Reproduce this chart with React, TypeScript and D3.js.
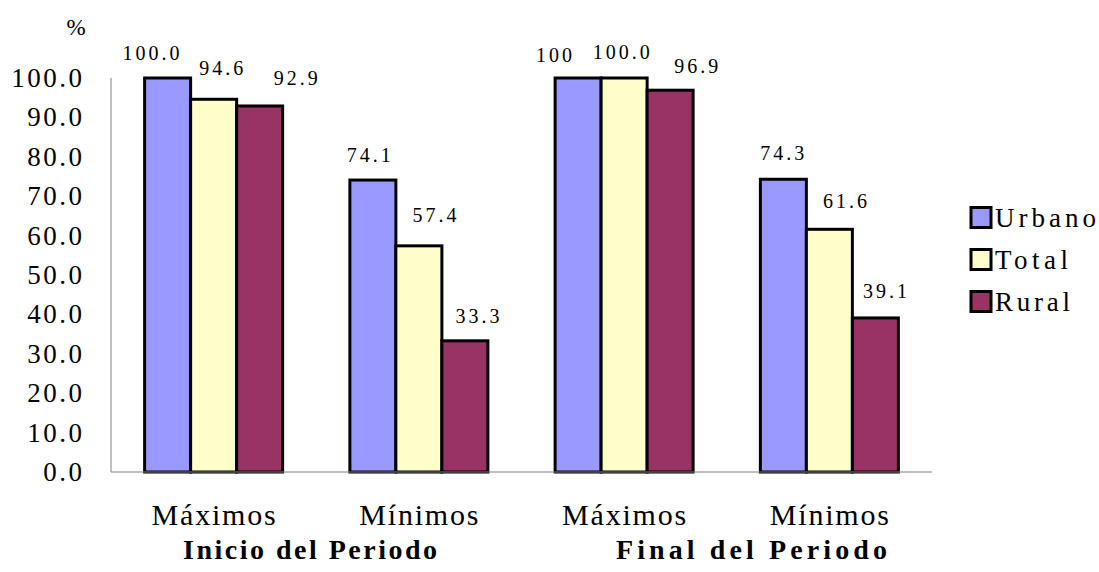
import React from "react";
import * as d3 from "d3";

// Categories along the x axis (two per period)
const categories = ["Máximos", "Mínimos", "Máximos", "Mínimos"];
const periods = ["Inicio del Periodo", "Final del Periodo"];
const seriesNames = ["Urbano", "Total", "Rural"];

// Series values (percent)
const urbano = [100.0, 74.1, 100, 74.3];
const total = [94.6, 57.4, 100.0, 61.6];
const rural = [92.9, 33.3, 96.9, 39.1];

// Value labels as printed above each bar
const urbanoLabels = ["100.0", "74.1", "100", "74.3"];
const totalLabels = ["94.6", "57.4", "100.0", "61.6"];
const ruralLabels = ["92.9", "33.3", "96.9", "39.1"];

const yTicks = [0, 10, 20, 30, 40, 50, 60, 70, 80, 90, 100];

const colors = ["#9999FF", "#FFFFCC", "#993366"];

// Label nudges [dx, rise above bar top], per series then category
const labelNudge: [number, number][][] = [
  [[-16.5, 18], [-4, 18], [-24, 16], [-1, 19]],
  [[7.5, 24], [15.5, 24], [-3, 19], [15.5, 21]],
  [[36, 21], [12.5, 18], [26, 17], [9.5, 20]],
];

// Legend text widths
const legendWidths = [101, 73, 75];

const W = 1099;
const H = 572;
const plot = { left: 111, right: 932, top: 78, bottom: 472 };
const serif = "'Liberation Serif', 'Times New Roman', serif";

export default function App() {
  const values = [urbano, total, rural];
  const labels = [urbanoLabels, totalLabels, ruralLabels];

  const x = d3
    .scaleBand<number>()
    .domain(d3.range(categories.length))
    .range([plot.left, plot.right])
    .paddingInner(0.3276)
    .paddingOuter(0.1638);

  const xs = d3
    .scaleBand<number>()
    .domain(d3.range(seriesNames.length))
    .range([0, x.bandwidth()]);

  const y = d3.scaleLinear().domain([0, 100]).range([plot.bottom, plot.top]);
  const fmt = d3.format(".1f");

  const barLS = 3;
  const tickLS = 2.5;
  const catLS = 1.8;

  return (
    <svg
      width={W}
      height={H}
      style={{ position: "absolute", left: 0, top: 0, background: "#fff", fontFamily: serif }}
    >
      <rect x={0} y={0} width={W} height={H} fill="#fff" />

      {/* unit label */}
      <text x={76} y={35} fontSize={23} textAnchor="middle" fill="#000">
        %
      </text>

      {/* y tick labels */}
      {yTicks.map((t) => (
        <text
          key={t}
          x={82 + tickLS}
          y={y(t) + 9}
          fontSize={27}
          letterSpacing={tickLS}
          textAnchor="end"
          fill="#000"
        >
          {fmt(t)}
        </text>
      ))}

      {/* bars */}
      {values.map((vals, s) =>
        vals.map((v, c) => {
          const bx = (x(c) as number) + (xs(s) as number);
          return (
            <rect
              key={`b${s}-${c}`}
              x={bx}
              y={y(v)}
              width={xs.bandwidth()}
              height={y(0) - y(v)}
              fill={colors[s]}
              stroke="#000"
              strokeWidth={3}
            />
          );
        })
      )}

      {/* axes */}
      <line
        x1={plot.left}
        x2={plot.left}
        y1={plot.top}
        y2={plot.bottom}
        stroke="#808080"
        strokeWidth={1}
      />
      <line
        x1={plot.left}
        x2={plot.right}
        y1={plot.bottom}
        y2={plot.bottom}
        stroke="#808080"
        strokeWidth={1}
      />

      {/* value labels */}
      {values.map((vals, s) =>
        vals.map((v, c) => {
          const cx =
            (x(c) as number) + (xs(s) as number) + xs.bandwidth() / 2;
          const [dx, rise] = labelNudge[s][c];
          return (
            <text
              key={`l${s}-${c}`}
              x={cx + dx + barLS / 2}
              y={y(v) - rise}
              fontSize={20}
              letterSpacing={barLS}
              textAnchor="middle"
              fill="#000"
            >
              {labels[s][c]}
            </text>
          );
        })
      )}

      {/* category labels */}
      {categories.map((name, c) => (
        <text
          key={`c${c}`}
          x={(x(c) as number) + x.bandwidth() / 2 + catLS / 2}
          y={525}
          fontSize={30}
          letterSpacing={catLS}
          textAnchor="middle"
          fill="#000"
        >
          {name}
        </text>
      ))}

      {/* period labels */}
      <text
        x={183}
        y={559}
        fontSize={28}
        fontWeight="bold"
        textLength={254}
        lengthAdjust="spacing"
        fill="#000"
      >
        {periods[0]}
      </text>
      <text
        x={616}
        y={559}
        fontSize={28}
        fontWeight="bold"
        textLength={271}
        lengthAdjust="spacing"
        fill="#000"
      >
        {periods[1]}
      </text>

      {/* legend */}
      {seriesNames.map((name, s) => {
        const top = 207.5 + s * 42;
        return (
          <g key={`g${s}`}>
            <rect
              x={971}
              y={top}
              width={20}
              height={20}
              fill={colors[s]}
              stroke="#000"
              strokeWidth={3}
            />
            <text
              x={995}
              y={top + 19.5}
              fontSize={27}
              textLength={legendWidths[s]}
              lengthAdjust="spacing"
              fill="#000"
            >
              {name}
            </text>
          </g>
        );
      })}
    </svg>
  );
}
